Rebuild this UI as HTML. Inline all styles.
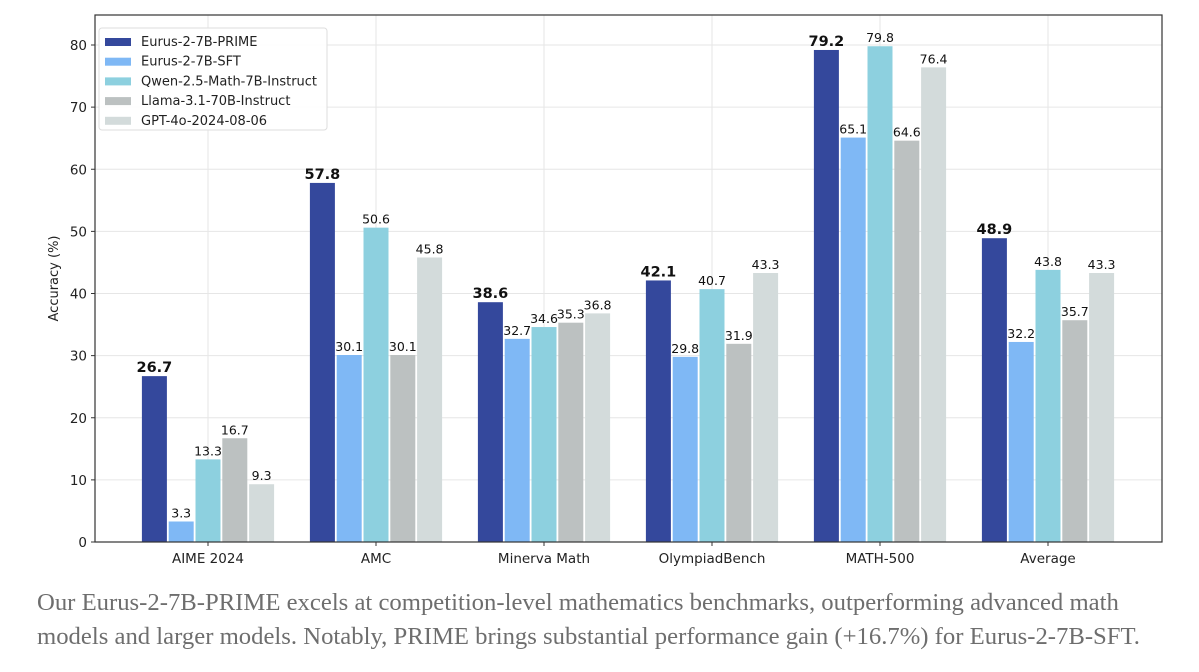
<!DOCTYPE html>
<html><head><meta charset="utf-8"><style>
body{margin:0;background:#fff;width:1199px;height:672px;overflow:hidden}
#cap{position:absolute;left:37px;top:586px;width:1160px;white-space:nowrap;font-family:"Liberation Serif",serif;font-size:24.7px;line-height:34px;color:#6e6e6e}
svg{position:absolute;left:0;top:0}
</style></head><body>
<svg id="chart" width="1199" height="580"></svg>
<div id="cap">Our Eurus-2-7B-PRIME excels at competition-level mathematics benchmarks, outperforming advanced math<br>models and larger models. Notably, PRIME brings substantial performance gain (+16.7%) for Eurus-2-7B-SFT.</div>
<script>
const categories=["AIME 2024","AMC","Minerva Math","OlympiadBench","MATH-500","Average"];
const seriesNames=["Eurus-2-7B-PRIME","Eurus-2-7B-SFT","Qwen-2.5-Math-7B-Instruct","Llama-3.1-70B-Instruct","GPT-4o-2024-08-06"];
const prime=[26.7,57.8,38.6,42.1,79.2,48.9];
const sft=[3.3,30.1,32.7,29.8,65.1,32.2];
const qwen=[13.3,50.6,34.6,40.7,79.8,43.8];
const llama=[16.7,30.1,35.3,31.9,64.6,35.7];
const gpt=[9.3,45.8,36.8,43.3,76.4,43.3];
const yTicks=[0,10,20,30,40,50,60,70,80];
const series=[prime,sft,qwen,llama,gpt];
const colors=["#34489c","#7fb8f5","#8dd0df","#bcc1c1","#d3dbdb"];
const NS="http://www.w3.org/2000/svg";
const svg=document.getElementById('chart');
const L=95,R=1162,T=15,B=542;
const y=v=>B-v*(B-45)/80;
const x=i=>208+i*168;
function el(t,a,p){const e=document.createElementNS(NS,t);for(const k in a)e.setAttribute(k,a[k]);(p||svg).appendChild(e);return e;}
const F='"DejaVu Sans","Liberation Sans",sans-serif';
yTicks.forEach(t=>{
 const g=el('line',{x1:L,x2:R,y1:y(t),y2:y(t),stroke:'#e6e6e6','stroke-width':1});
 
 
 el('line',{x1:L-4,x2:L,y1:y(t),y2:y(t),stroke:'#333'});
 const tx=el('text',{x:L-8,y:y(t)+5,'text-anchor':'end','font-family':F,'font-size':13.5,fill:'#222'});tx.textContent=t;
 
 
});
categories.forEach((c,i)=>{
 const g=el('line',{x1:x(i),x2:x(i),y1:T,y2:B,stroke:'#e6e6e6'});
 
 
 el('line',{x1:x(i),x2:x(i),y1:B,y2:B+4,stroke:'#333'});
 const tx=el('text',{x:x(i),y:B+21,'text-anchor':'middle','font-family':F,'font-size':13.5,fill:'#222'});tx.textContent=c;
 
 
});
const step=26.8,bw=25;
series.forEach((s,k)=>{
 s.forEach((v,i)=>{
  const cx=x(i)+(k-2)*step;
  const r=el('rect',{x:cx-bw/2,y:y(v),width:bw,height:B-y(v),fill:colors[k]});
  
  
  const tx=el('text',{x:cx,y:y(v)-4,'text-anchor':'middle','font-family':F,'font-size':k==0?14.5:12.5,'font-weight':k==0?'bold':'normal',fill:'#111'});tx.textContent=v.toFixed(1);
  
  
 });
});
el('rect',{x:L,y:T,width:R-L,height:B-T,fill:'none',stroke:'#333','stroke-width':1.2});
const yt=el('text',{x:0,y:0,transform:`translate(58,${(T+B)/2}) rotate(-90)`,'text-anchor':'middle','font-family':F,'font-size':13,fill:'#222'});yt.textContent='Accuracy (%)';


const lg=el('g',{});


el('rect',{x:99,y:28,width:228,height:102,rx:3,fill:'#fff','fill-opacity':0.9,stroke:'#ddd'},lg);
seriesNames.forEach((n,k)=>{
 const yy=38+k*19.7;
 el('rect',{x:105,y:yy,width:26,height:8,fill:colors[k]},lg);
 const tx=el('text',{x:141,y:yy+8,'font-family':F,'font-size':13,fill:'#222'},lg);tx.textContent=n;
 
 
});
</script>
</body></html>
